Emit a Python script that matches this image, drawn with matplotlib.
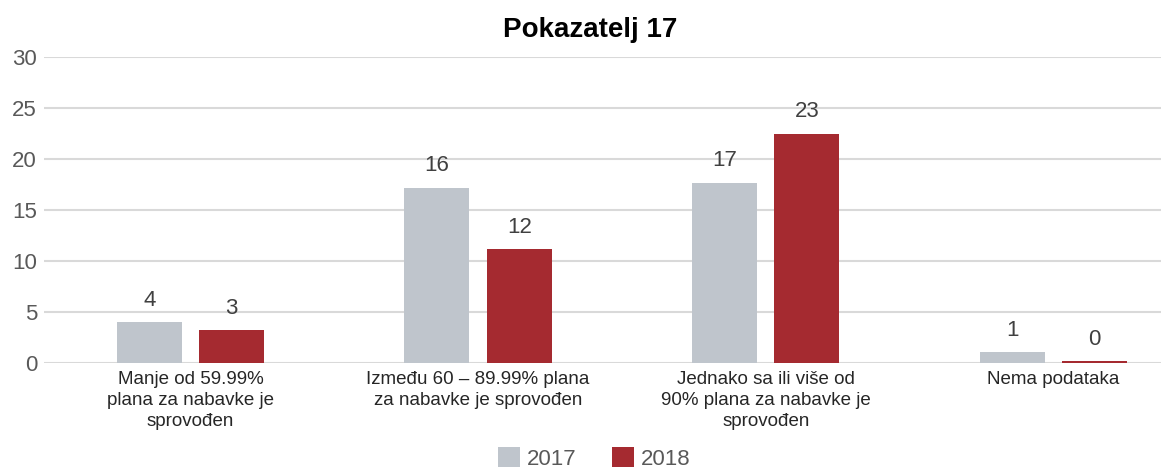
import matplotlib
matplotlib.use("Agg")
import matplotlib.pyplot as plt
import numpy as np
from matplotlib.patches import Patch

plt.rcParams['font.family'] = ['Liberation Sans', 'DejaVu Sans']

categories = [
    "Manje od 59.99%\nplana za nabavke je\nsprovođen",
    "Između 60 – 89.99% plana\nza nabavke je sprovođen",
    "Jednako sa ili više od\n90% plana za nabavke je\nsprovođen",
    "Nema podataka",
]
series_names = ["2017", "2018"]
values_2017 = [4.0, 17.2, 17.7, 1.1]
values_2018 = [3.2, 11.2, 22.5, 0.2]
labels_2017 = ["4", "16", "17", "1"]
labels_2018 = ["3", "12", "23", "0"]
yticks = [0, 5, 10, 15, 20, 25, 30]
title = "Pokazatelj 17"

c2017 = "#BFC5CC"
c2018 = "#A52A30"

fig = plt.figure(figsize=(11.61, 4.68), dpi=100)
ax = fig.add_axes([0.0379, 0.2244, 1 - 0.0379, 0.878 - 0.2244])

x = np.arange(len(categories))
w = 0.226
off = 0.143
b1 = ax.bar(x - off, values_2017, w, color=c2017, zorder=3)
b2 = ax.bar(x + off, values_2018, w, color=c2018, zorder=3)

for bars, labs in ((b1, labels_2017), (b2, labels_2018)):
    for rect, lab in zip(bars, labs):
        ax.annotate(lab, (rect.get_x() + rect.get_width() / 2, rect.get_height()),
                    xytext=(0, 8), textcoords="offset points",
                    ha="center", va="bottom", fontsize=16, color="#404040")

ax.set_xlim(-0.509, 3.374)
ax.set_ylim(0, 30)
ax.set_yticks(yticks)
ax.set_yticklabels([str(t) for t in yticks], fontsize=16, color="#595959")
ax.set_xticks(x)
ax.set_xticklabels(categories, fontsize=13.5, color="#262626", linespacing=1.3, va="top")
ax.tick_params(axis="both", length=0)
ax.tick_params(axis="y", pad=5)
ax.tick_params(axis="x", pad=6)
for s in ax.spines.values():
    s.set_visible(False)
ax.yaxis.grid(True, color="#D9D9D9", linewidth=1.5, zorder=0)
ax.set_axisbelow(True)

fig.text(0.508, 0.935, title, ha="center", va="center", fontsize=20,
         fontweight="bold", color="#000000")

handles = [Patch(facecolor=c2017), Patch(facecolor=c2018)]
fig.legend(handles, series_names, loc="center", bbox_to_anchor=(0.512, 0.02),
           ncol=2, frameon=False, fontsize=16, labelcolor="#595959",
           handlelength=1.0, handleheight=1.0, handletextpad=0.3, columnspacing=1.6)

fig.savefig("out.png", dpi=100)
